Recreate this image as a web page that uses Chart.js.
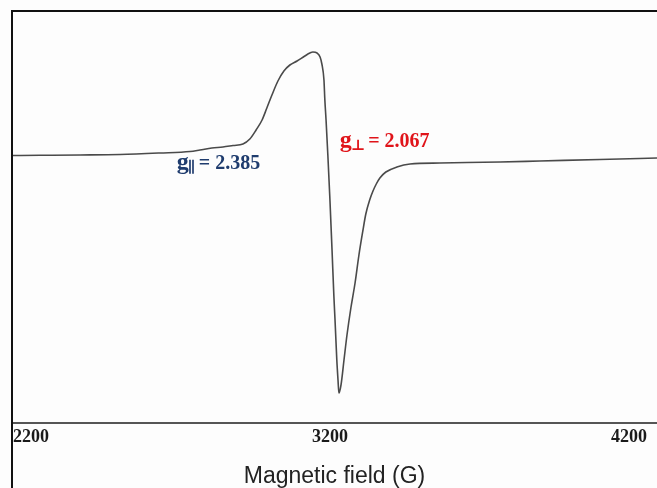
<!DOCTYPE html>
<html>
<head>
<meta charset="utf-8">
<script src="https://cdn.jsdelivr.net/npm/chart.js@4.4.1/dist/chart.umd.min.js"></script>
<style>
  html, body { margin: 0; padding: 0; background: #fdfdfd; }
  #wrap { width: 657px; height: 488px; }
</style>
</head>
<body>
<div id="wrap"><canvas id="epr"></canvas></div>
<script>
// EPR spectrum, first derivative (arbitrary units) vs magnetic field in gauss
const fieldG = [2136, 2230, 2364, 2498, 2631, 2732, 2765, 2805, 2842, 2876, 2909,
  2932, 2953, 2973, 2989, 3006, 3026, 3046, 3066, 3090, 3116, 3133, 3143, 3157,
  3167, 3173, 3180, 3183, 3187, 3193, 3200, 3207, 3213, 3217, 3223, 3227, 3230,
  3237, 3247, 3257, 3270, 3284, 3297, 3310, 3320, 3334, 3344, 3355, 3367, 3387, 3424,
  3468, 3568, 3769, 3902, 4103, 4294];
const signal = [-0.005, -0.003, 0.0, 0.005, 0.02, 0.035, 0.05, 0.07, 0.08, 0.095, 0.11,
  0.16, 0.25, 0.35, 0.47, 0.60, 0.74, 0.84, 0.90, 0.94, 0.99, 1.02, 1.03, 1.02,
  0.98, 0.91, 0.75, 0.55, 0.35, 0.0, -0.45, -0.95, -1.40, -1.65, -2.05, -2.25, -2.38,
  -2.30, -2.05, -1.80, -1.53, -1.28, -1.00, -0.76, -0.59, -0.44, -0.36, -0.29, -0.23, -0.17, -0.12,
  -0.09, -0.08, -0.07, -0.06, -0.045, -0.03];
const tickFields = [2200, 3200, 4200];

// g-factor annotations: [main, subscript, value, field, intensity, colour]
const gPar = ['g', '\u2225', '= 2.385', 2688, -0.14, '#1f3c6e'];
const gPerp = ['g', '\u22A5', '= 2.067', 3233, 0.08, '#e0141a'];

const points = fieldG.map((x, i) => ({ x: x, y: signal[i] }));

const framePlugin = {
  id: 'frameAndLabels',
  afterDraw(chart) {
    const ctx = chart.ctx;
    const area = chart.chartArea;
    ctx.save();
    // outer frame: top edge and left edge running to the bottom of the canvas
    ctx.strokeStyle = '#111';
    ctx.lineWidth = 2;
    ctx.beginPath();
    ctx.moveTo(area.left, chart.height);
    ctx.lineTo(area.left, area.top);
    ctx.lineTo(chart.width, area.top);
    ctx.stroke();

    const xs = chart.scales.x, ys = chart.scales.y;
    [gPar, gPerp].forEach(function (g) {
      let px = xs.getPixelForValue(g[3]);
      const py = ys.getPixelForValue(g[4]);
      ctx.fillStyle = g[5];
      ctx.textBaseline = 'alphabetic';
      ctx.textAlign = 'left';
      ctx.font = 'bold 24px "Liberation Serif", serif';
      ctx.fillText(g[0], px, py);
      px += ctx.measureText(g[0]).width;
      ctx.font = 'bold 15px "DejaVu Serif", serif';
      ctx.fillText(g[1], px - 1, py + 3);
      px += ctx.measureText(g[1]).width + 2;
      ctx.font = 'bold 20px "Liberation Serif", serif';
      ctx.fillText(g[2], px, py);
    });
    ctx.restore();
  }
};

new Chart(document.getElementById('epr'), {
  type: 'line',
  data: {
    datasets: [{
      data: points,
      borderColor: '#4a4a4a',
      borderWidth: 1.6,
      pointRadius: 0,
      cubicInterpolationMode: 'monotone',
      fill: false
    }]
  },
  options: {
    responsive: true,
    maintainAspectRatio: false,
    animation: false,
    layout: { padding: { left: 12, top: 11, right: 0, bottom: 0 } },
    plugins: { legend: { display: false }, tooltip: { enabled: false } },
    scales: {
      x: {
        type: 'linear',
        min: 2136.5,
        max: 4294,
        afterBuildTicks: function (scale) {
          scale.ticks = tickFields.map(v => ({ value: v }));
        },
        afterFit: function (scale) { scale.height = 65; },
        grid: { display: false, drawTicks: false },
        border: { display: true, color: '#555', width: 2 },
        ticks: {
          padding: 4,
          color: '#1a1a1a',
          font: { family: '"Liberation Serif", serif', size: 18, weight: 'bold' },
          callback: v => String(v)
        },
        title: {
          display: true,
          text: 'Magnetic field (G)',
          color: '#222',
          font: { family: '"Liberation Sans", Arial, sans-serif', size: 23, lineHeight: 1.0 },
          padding: { top: 0, bottom: 0 }
        }
      },
      y: {
        display: false,
        min: -2.68,
        max: 1.44
      }
    }
  },
  plugins: [framePlugin]
});
</script>
</body>
</html>
